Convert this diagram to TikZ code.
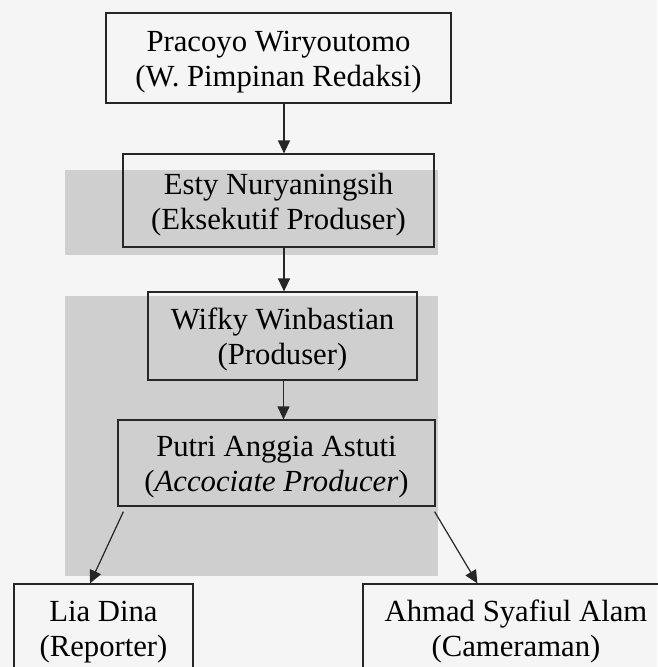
\documentclass[tikz,border=0pt]{standalone}
\usepackage{fontspec}
\setmainfont{Liberation Serif}
\usetikzlibrary{arrows.meta}
\begin{document}
\begin{tikzpicture}[x=1pt,y=-1pt,
    jabatan/.style={draw=black!85,line width=1.2pt,align=center,inner sep=0pt,
      font=\fontsize{30.7}{35}\selectfont,text height=65pt,text depth=8pt},
    panah/.style={draw=black!85,line width=1.2pt,-{Triangle[length=13pt,width=12pt]}}]
  \useasboundingbox (0,0) rectangle (657,667);
  % Background and gray bands
  \fill[black!4] (0,0) rectangle (657,667);
  \fill[black!19] (65,170) rectangle (438,255);
  \fill[black!19] (65,296) rectangle (438,576);
  % Boxes
  \node[jabatan,minimum width=345pt,minimum height=90pt] (pimred) at (278.5,58)
    {Pracoyo Wiryoutomo\\(W. Pimpinan Redaksi)};
  \node[jabatan,minimum width=311pt,minimum height=93pt] (eksprod) at (278.5,200.5)
    {Esty Nuryaningsih\\(Eksekutif Produser)};
  \node[jabatan,minimum width=269pt,minimum height=88pt] (prod) at (282.5,336)
    {Wifky Winbastian\\(Produser)};
  \node[jabatan,minimum width=317pt,minimum height=86pt] (assoc) at (276.5,463)
    {Putri Anggia Astuti\\(\textit{Accociate Producer})};
  \node[jabatan,minimum width=179pt,minimum height=88pt] (reporter) at (103.5,628)
    {Lia Dina\\(Reporter)};
  \node[jabatan,minimum width=306pt,minimum height=88pt] (kamera) at (516,628)
    {Ahmad Syafiul Alam\\(Cameraman)};
  % Arrows
  \draw[panah] ([xshift=5.5pt]pimred.south) -- ([xshift=5.5pt]eksprod.north);
  \draw[panah] ([xshift=5.5pt]eksprod.south) -- ([xshift=1.5pt]prod.north);
  \draw[panah] ([xshift=1pt]prod.south) -- ([xshift=7pt]assoc.north);
  \draw[panah] ([shift={(6pt,-5pt)}]assoc.south west) -- ([xshift=-13.5pt]reporter.north);
  \draw[panah] ([shift={(-1pt,-5pt)}]assoc.south east) -- ([xshift=115pt]kamera.north west);
\end{tikzpicture}
\end{document}
